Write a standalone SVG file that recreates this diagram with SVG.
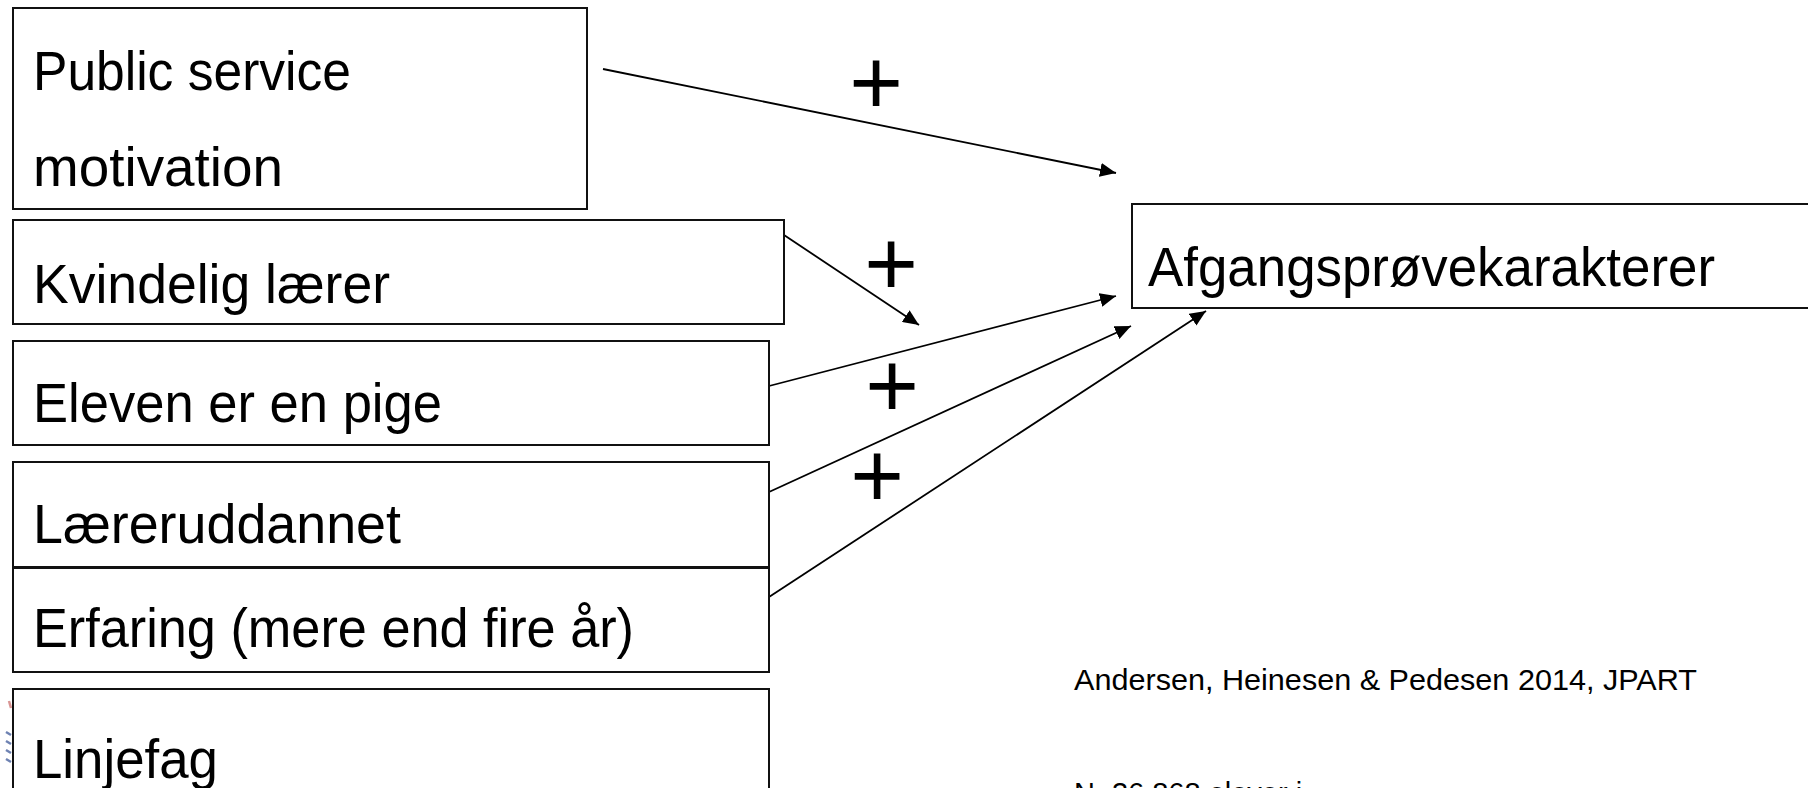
<svg xmlns="http://www.w3.org/2000/svg" width="1808" height="788" viewBox="0 0 1808 788">
  <style>
    .box { fill: #ffffff; stroke: #111111; stroke-width: 2; }
    .lbl { font-family: "Liberation Sans", Arial, sans-serif; font-size: 55px; fill: #000000; }
    .ref { font-family: "Liberation Sans", Arial, sans-serif; font-size: 29px; fill: #000000; }
    .plus { font-family: "Liberation Sans", Arial, sans-serif; font-size: 92px; fill: #000000; text-anchor: middle; }
    .conn { stroke: #000000; stroke-width: 1.8; fill: none; marker-end: url(#arrow); }
  </style>
  <defs>
    <marker id="arrow" markerUnits="userSpaceOnUse" markerWidth="17" markerHeight="14" refX="16" refY="7" orient="auto">
      <path d="M0,0 L16,7 L0,14 Z" fill="#000000"/>
    </marker>
  </defs>
  <rect x="0" y="0" width="1808" height="788" fill="#ffffff"/>

  <!-- partial logo fragments at left edge -->
  <g id="logo-fragment">
    <path d="M9,701 L11,708" stroke="#c0504d" stroke-width="2.5" opacity="0.6"/>
    <path d="M6,732 L11,735 M6,741 L11,744 M6,750 L11,753 M6,759 L11,762" stroke="#4a64a0" stroke-width="2.5" opacity="0.8"/>
  </g>

  <g id="connectors">
    <line class="conn" x1="603" y1="69" x2="1116" y2="173"/>
    <line class="conn" x1="784" y1="235" x2="919" y2="325"/>
    <line class="conn" x1="769" y1="386" x2="1116" y2="296"/>
    <line class="conn" x1="769" y1="492" x2="1131" y2="326"/>
    <line class="conn" x1="769" y1="597" x2="1206" y2="311"/>
  </g>

  <g id="signs">
    <text class="plus" x="876" y="114">+</text>
    <text class="plus" x="891" y="295">+</text>
    <text class="plus" x="892" y="417">+</text>
    <text class="plus" x="877" y="507">+</text>
  </g>

  <g id="node-psm">
    <rect class="box" x="13" y="8" width="574" height="201"/>
    <text class="lbl" x="33" y="90" textLength="318" lengthAdjust="spacingAndGlyphs">Public service</text>
    <text class="lbl" x="33" y="186" textLength="250" lengthAdjust="spacingAndGlyphs">motivation</text>
  </g>
  <g id="node-kvindelig">
    <rect class="box" x="13" y="220" width="771" height="104"/>
    <text class="lbl" x="33" y="303" textLength="357" lengthAdjust="spacingAndGlyphs">Kvindelig lærer</text>
  </g>
  <g id="node-eleven">
    <rect class="box" x="13" y="341" width="756" height="104"/>
    <text class="lbl" x="33" y="422" textLength="409" lengthAdjust="spacingAndGlyphs">Eleven er en pige</text>
  </g>
  <g id="node-laereruddannet">
    <rect class="box" x="13" y="462" width="756" height="105"/>
    <text class="lbl" x="33" y="543" textLength="368" lengthAdjust="spacingAndGlyphs">Læreruddannet</text>
  </g>
  <g id="node-erfaring">
    <rect class="box" x="13" y="568" width="756" height="104"/>
    <text class="lbl" x="33" y="647" textLength="601" lengthAdjust="spacingAndGlyphs">Erfaring (mere end fire år)</text>
  </g>
  <g id="node-linjefag">
    <rect class="box" x="13" y="689" width="756" height="130"/>
    <text class="lbl" x="33" y="778" textLength="185" lengthAdjust="spacingAndGlyphs">Linjefag</text>
  </g>
  <g id="node-afgang">
    <rect class="box" x="1132" y="204" width="700" height="104"/>
    <text class="lbl" x="1148" y="286" textLength="567" lengthAdjust="spacingAndGlyphs">Afgangsprøvekarakterer</text>
  </g>

  <g id="reference">
    <text class="ref" x="1074" y="690" textLength="623" lengthAdjust="spacingAndGlyphs">Andersen, Heinesen &amp; Pedesen 2014, JPART</text>
    <text class="ref" x="1074" y="803">N=36.868 elever i</text>
  </g>
</svg>
